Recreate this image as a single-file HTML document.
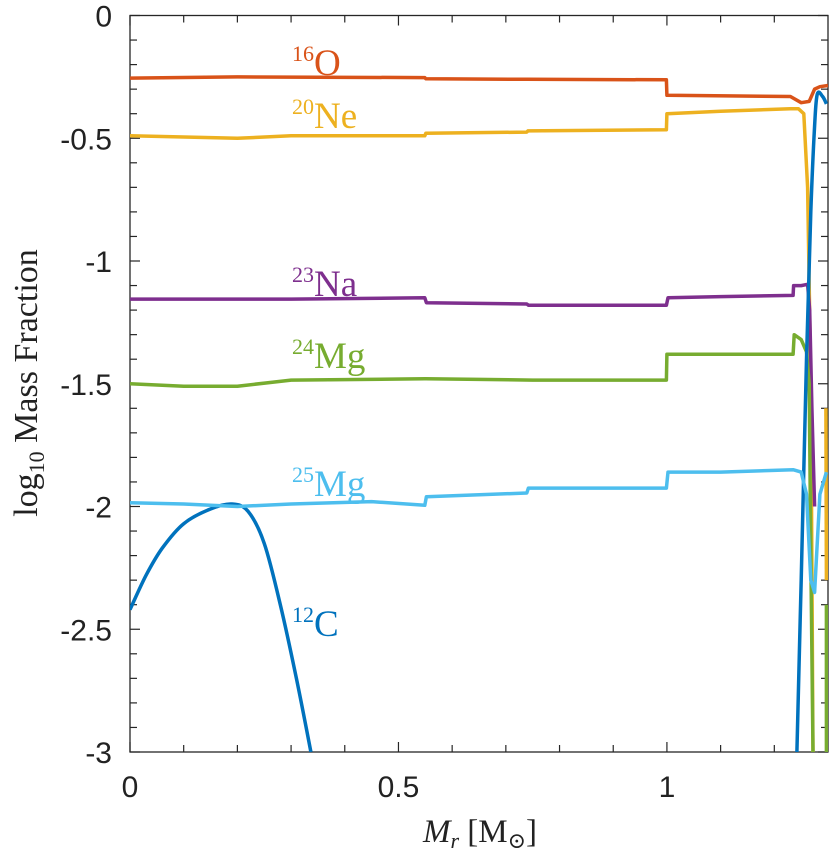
<!DOCTYPE html>
<html><head><meta charset="utf-8"><style>
html,body{margin:0;padding:0;background:#fff;}
svg{display:block;}
.tk{font-family:"Liberation Sans",Arial,sans-serif;font-size:30px;fill:#222;}
.lb{font-family:"Liberation Serif","DejaVu Serif",serif;}
</style></head><body>
<svg id="chart" width="830" height="851" viewBox="0 0 830 851">
<g id="axes"></g>
<g id="series"></g>
<g id="labels"></g>
</svg>
<script>
const xTicks=[0,0.5,1];
const xTickLabels=["0","0.5","1"];
const yTicks=[0,-0.5,-1,-1.5,-2,-2.5,-3];
const yTickLabels=["0","-0.5","-1","-1.5","-2","-2.5","-3"];
const o16X=[0,0.2,0.549,0.551,0.74,0.999,1.0,1.23,1.25,1.265,1.275,1.285,1.3];
const o16Y=[-0.255,-0.25,-0.253,-0.258,-0.26,-0.262,-0.325,-0.33,-0.355,-0.35,-0.30,-0.29,-0.285];
const ne20X=[0,0.1,0.2,0.3,0.549,0.551,0.739,0.741,0.999,1.0,1.1,1.23,1.245,1.255,1.262,1.268,1.272];
const ne20Y=[-0.49,-0.495,-0.5,-0.49,-0.49,-0.48,-0.475,-0.47,-0.465,-0.40,-0.39,-0.38,-0.38,-0.4,-0.7,-1.5,-3];
const ne20bX=[1.296,1.297];
const ne20bY=[-1.6,-2.3];
const na23X=[0,0.3,0.549,0.552,0.739,0.742,0.999,1.002,1.1,1.235,1.236,1.25,1.262,1.266,1.27,1.275];
const na23Y=[-1.155,-1.155,-1.15,-1.17,-1.175,-1.18,-1.18,-1.15,-1.145,-1.14,-1.1,-1.1,-1.095,-1.2,-1.6,-2.0];
const mg24X=[0,0.1,0.2,0.3,0.549,0.551,0.75,0.999,1.0,1.1,1.235,1.237,1.25,1.26,1.265,1.268,1.272];
const mg24Y=[-1.5,-1.51,-1.51,-1.485,-1.48,-1.48,-1.485,-1.485,-1.38,-1.38,-1.38,-1.3,-1.32,-1.37,-1.5,-2.2,-3];
const mg24bX=[1.297,1.297];
const mg24bY=[-2.4,-3];
const mg25X=[0,0.1,0.2,0.3,0.45,0.549,0.552,0.739,0.742,0.999,1.002,1.1,1.235,1.25,1.26,1.268,1.275,1.285,1.297];
const mg25Y=[-1.985,-1.99,-2.0,-1.99,-1.98,-1.995,-1.96,-1.945,-1.925,-1.925,-1.86,-1.86,-1.85,-1.86,-1.95,-2.3,-2.35,-1.95,-1.86];
const c12X=[0,0.03,0.06,0.1,0.15,0.19,0.22,0.25,0.28,0.31,0.337];
const c12Y=[-2.42,-2.28,-2.17,-2.07,-2.01,-1.99,-2.02,-2.15,-2.4,-2.7,-3.0];
const c12bX=[1.242,1.25,1.26,1.268,1.275,1.28,1.29,1.297];
const c12bY=[-3.0,-2.3,-1.4,-0.8,-0.45,-0.32,-0.33,-0.36];

const L=130,R=828,T=15.5,B=752,XMAX=1.3,YMIN=-3,YMAX=0;
const sx=v=>L+(v/XMAX)*(R-L);
const sy=v=>T+(YMAX-v)/(YMAX-YMIN)*(B-T);
const NS="http://www.w3.org/2000/svg";
function mk(tag,attrs,parent){const e=document.createElementNS(NS,tag);for(const k in attrs)e.setAttribute(k,attrs[k]);parent.appendChild(e);return e;}
const axes=document.getElementById('axes');
const frame=mk('rect',{x:L,y:T,width:R-L,height:B-T,fill:'none',stroke:'#262626','stroke-width':1.3},axes);


for(let i=0;i<=12;i++){const v=i*0.1;const x=sx(v);const len=(i%5===0)?10:7;
 const t1=mk('line',{x1:x,x2:x,y1:B,y2:B-len,stroke:'#262626','stroke-width':1.2},axes);
 
 
 const t2=mk('line',{x1:x,x2:x,y1:T,y2:T+len,stroke:'#262626','stroke-width':1.2},axes);
 
 }
for(let i=0;i<=30;i++){const v=-i*0.1;const y=sy(v);const len=(i%5===0)?10:7;
 const t1=mk('line',{x1:L,x2:L+len,y1:y,y2:y,stroke:'#262626','stroke-width':1.2},axes);
 
 
 const t2=mk('line',{x1:R,x2:R-len,y1:y,y2:y,stroke:'#262626','stroke-width':1.2},axes);
 
 }
xTicks.forEach((v,i)=>{const t=mk('text',{x:sx(v),y:797,'text-anchor':'middle',class:'tk'},axes);t.textContent=xTickLabels[i];
 
 });
yTicks.forEach((v,i)=>{const t=mk('text',{x:112,y:sy(v)+11,'text-anchor':'end',class:'tk'},axes);t.textContent=yTickLabels[i];
 
 });

const ser=document.getElementById('series');
const clip=mk('clipPath',{id:'clip'},ser);mk('rect',{x:L,y:T,width:R-L,height:B-T},clip);
function pathD(xs,ys,smooth){const P=xs.map((x,i)=>[sx(x),sy(ys[i])]);
 if(!smooth)return P.map((p,i)=>(i?'L':'M')+p[0].toFixed(1)+','+p[1].toFixed(1)).join('');
 let d='M'+P[0][0].toFixed(1)+','+P[0][1].toFixed(1);
 for(let i=0;i<P.length-1;i++){const p0=P[Math.max(i-1,0)],p1=P[i],p2=P[i+1],p3=P[Math.min(i+2,P.length-1)];
  const c1=[p1[0]+(p2[0]-p0[0])/6,p1[1]+(p2[1]-p0[1])/6],c2=[p2[0]-(p3[0]-p1[0])/6,p2[1]-(p3[1]-p1[1])/6];
  d+='C'+c1.map(v=>v.toFixed(1)).join(',')+' '+c2.map(v=>v.toFixed(1)).join(',')+' '+p2[0].toFixed(1)+','+p2[1].toFixed(1);}
 return d;}
function line(xs,ys,color,name,smooth){
 const p=mk('path',{d:pathD(xs,ys,smooth),fill:'none',stroke:color,'stroke-width':3.5,'stroke-linejoin':'round','clip-path':'url(#clip)'},ser);
 
 }
line(o16X,o16Y,'#D95319','o16-line');
line(ne20X,ne20Y,'#EDB120','ne20-line');
line(ne20bX,ne20bY,'#EDB120','ne20-edge-line');
line(na23X,na23Y,'#7E2F8E','na23-line');
line(mg24X,mg24Y,'#77AC30','mg24-line');
line(mg24bX,mg24bY,'#77AC30','mg24-edge-line');
line(c12X,c12Y,'#0072BD','c12-line',true);
line(c12bX,c12bY,'#0072BD','c12-edge-line',true);
line(mg25X,mg25Y,'#4DBEEE','mg25-line');

const lab=document.getElementById('labels');
function iso(x,y,mass,el,color,name){const t=mk('text',{x:x,y:y,fill:color,class:'lb'},lab);
 
 
 const s=mk('tspan',{'font-size':22,dy:-14},t);s.textContent=mass;
 const e=mk('tspan',{'font-size':37,dy:14},t);e.textContent=el;}
iso(292,75,'16','O','#D95319','o16-label');
iso(292,128,'20','Ne','#EDB120','ne20-label');
iso(292,296,'23','Na','#7E2F8E','na23-label');
iso(292,368,'24','Mg','#77AC30','mg24-label');
iso(292,496,'25','Mg','#4DBEEE','mg25-label');
iso(292,636,'12','C','#0072BD','c12-label');

const xl=mk('text',{x:480,y:842,'text-anchor':'middle',class:'lb','font-size':33,fill:'#222'},lab);


xl.innerHTML='<tspan font-style="italic">M</tspan><tspan font-style="italic" font-size="22" dy="6">r</tspan><tspan dy="-6"> [M</tspan><tspan font-size="22" dy="6">⊙</tspan><tspan dy="-6">]</tspan>';
const yl=mk('text',{x:0,y:0,'text-anchor':'middle',class:'lb','font-size':34,fill:'#222',transform:'translate(37,383) rotate(-90)'},lab);


yl.innerHTML='log<tspan font-size="22" dy="7">10</tspan><tspan dy="-7"> Mass Fraction</tspan>';
</script>
</body></html>
